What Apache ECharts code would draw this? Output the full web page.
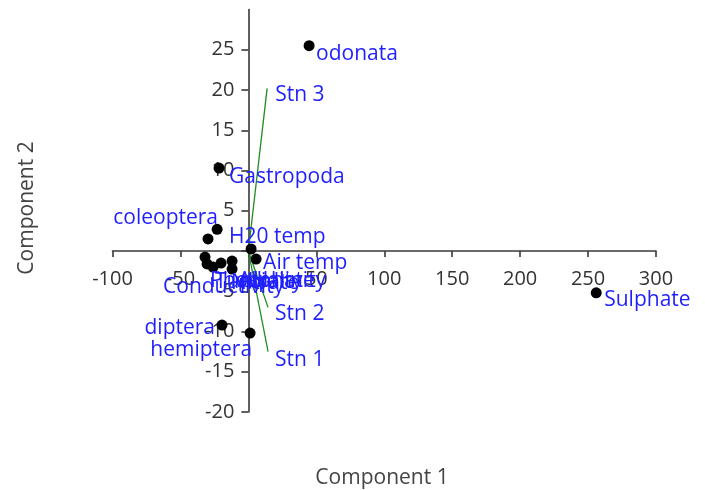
<!DOCTYPE html>
<html>
<head>
<meta charset="utf-8">
<script src="https://cdn.jsdelivr.net/npm/echarts@6/dist/echarts.min.js"></script>
<style>
html,body{margin:0;padding:0;background:#fff;}
#chart{width:705px;height:490px;}
</style>
</head>
<body>
<div id="chart"></div>
<script>
// ---- data ----
const pointNames = ['odonata','Sulphate','Gastropoda','H20 temp','coleoptera','','Air temp','diptera','hemiptera',
  'Conductivity','Phosphate','Turbidity','Nitrate','Alkalinity','pH'];
const pointX = [44.7, 256, -21.6, -23.0, -29.7, 2.0, 5.7, -19.4, 1.25, -31.9, -30.4, -26.0, -20.1, -12.0, -12.0];
const pointY = [25.5, -5.2, 10.3, 2.7, 1.5, 0.25, -1.0, -9.2, -10.2, -0.75, -1.6, -2.0, -1.5, -1.25, -2.25];

const stationNames = ['Stn 1','Stn 2','Stn 3'];
const stationX = [14.5, 14.5, 13.8];
const stationY = [-12.5, -7.0, 20.2];

const xMin = -100, xMax = 300, xStep = 50;
const yMin = -20, yMax = 30, yStep = 5;
const xTickLabels = [-100, -50, 50, 100, 150, 200, 250, 300];
const xTickMarks = [-100, -50, 0, 50, 100, 150, 200, 250, 300];
const yTickLabels = [-20, -15, -10, -5, 5, 10, 15, 20, 25];
const yTickMarks = [-20, -15, -10, -5, 0, 5, 10, 15, 20, 25];

// ---- label styling (pixel offsets from the mark) ----
const labelStyle = {
  'odonata': ['left', 7, 8],
  'Sulphate': ['left', 8, 7],
  'Gastropoda': ['left', 10, 9],
  'H20 temp': ['left', 12, 8],
  'coleoptera': ['right', 10, -21],
  'Air temp': ['left', 7, 4],
  'diptera': ['right', -7, 3],
  'hemiptera': ['right', 2, 17],
  'Conductivity': ['left', -42, 30],
  'Phosphate': ['left', 3, 17],
  'Turbidity': ['left', 2, 15],
  'Nitrate': ['left', 10, 20],
  'Alkalinity': ['left', 6, 20],
  'pH': ['left', 8, 12],
  'Stn 1': ['left', 7, 8],
  'Stn 2': ['left', 7, 7],
  'Stn 3': ['left', 8, 7]
};

const FONT = '"Open Sans", "Noto Sans", sans-serif';
const BLUE = '#1f1fff';
const AXIS = '#383838';

function lab(name) {
  const s = labelStyle[name];
  if (!name || !s) return { show: false };
  return {
    show: true, position: 'inside', align: s[0], verticalAlign: 'middle',
    offset: [s[1], s[2]], color: BLUE, opacity: 1, fontSize: 21, fontFamily: FONT,
    formatter: name
  };
}

const scatterData = pointNames.map((n, i) => ({
  name: n, value: [pointX[i], pointY[i]], label: lab(n)
}));

const stationLines = stationNames.map((n, i) => ({
  type: 'line', name: n, silent: true, z: 1,
  data: [[0, 0], [stationX[i], stationY[i]]],
  symbol: 'none', showSymbol: false,
  lineStyle: { color: '#1f8c1f', width: 1.3 },
  animation: false
}));

const stationLabels = {
  type: 'scatter', z: 4, silent: true,
  symbol: 'circle', symbolSize: 1,
  itemStyle: { color: 'rgba(0,0,0,0)' },
  data: stationNames.map((n, i) => ({ name: n, value: [stationX[i], stationY[i]], label: lab(n) }))
};

const GRID = { left: 112.5, top: 9.5, width: 543.5, height: 402.5 };
// axes cross at the origin: shift them from the grid edges to the zero position
const xAxisOffset = -GRID.height * (0 - yMin) / (yMax - yMin);
const yAxisOffset = -GRID.width * (0 - xMin) / (xMax - xMin);

const chart = echarts.init(document.getElementById('chart'), null, { renderer: 'canvas' });
chart.setOption({
  animation: false,
  backgroundColor: '#fff',
  grid: Object.assign({ containLabel: false, outerBoundsMode: 'none' }, GRID),
  xAxis: {
    type: 'value', min: xMin, max: xMax, interval: xStep,
    position: 'bottom', offset: xAxisOffset,
    axisLine: { show: true, onZero: false, lineStyle: { color: AXIS, width: 1.6 } },
    axisTick: { show: true, length: 6, customValues: xTickMarks, lineStyle: { color: AXIS, width: 1.6 } },
    axisLabel: { customValues: xTickLabels, margin: 18, color: '#333', fontSize: 20, fontFamily: FONT },
    splitLine: { show: false }
  },
  yAxis: {
    type: 'value', min: yMin, max: yMax, interval: yStep,
    position: 'left', offset: yAxisOffset,
    axisLine: { show: true, onZero: false, lineStyle: { color: AXIS, width: 1.6 } },
    axisTick: { show: true, length: 7, customValues: yTickMarks, lineStyle: { color: AXIS, width: 1.6 } },
    axisLabel: { customValues: yTickLabels, margin: 14, color: '#333', fontSize: 20, fontFamily: FONT },
    splitLine: { show: false }
  },
  series: stationLines.concat([{
    type: 'scatter', z: 3,
    symbol: 'circle', symbolSize: 11,
    itemStyle: { color: '#000', opacity: 1 },
    data: scatterData
  }, stationLabels]),
  graphic: [
    { type: 'text', z: 10,
      x: 382, y: 478,
      style: { text: 'Component 1', fontSize: 21, fontFamily: FONT, fill: '#444', align: 'center', verticalAlign: 'middle' } },
    { type: 'text', z: 10, rotation: Math.PI / 2,
      x: 27, y: 208,
      style: { text: 'Component 2', fontSize: 21, fontFamily: FONT, fill: '#444', align: 'center', verticalAlign: 'middle' } }
  ]
});
</script>
</body>
</html>
